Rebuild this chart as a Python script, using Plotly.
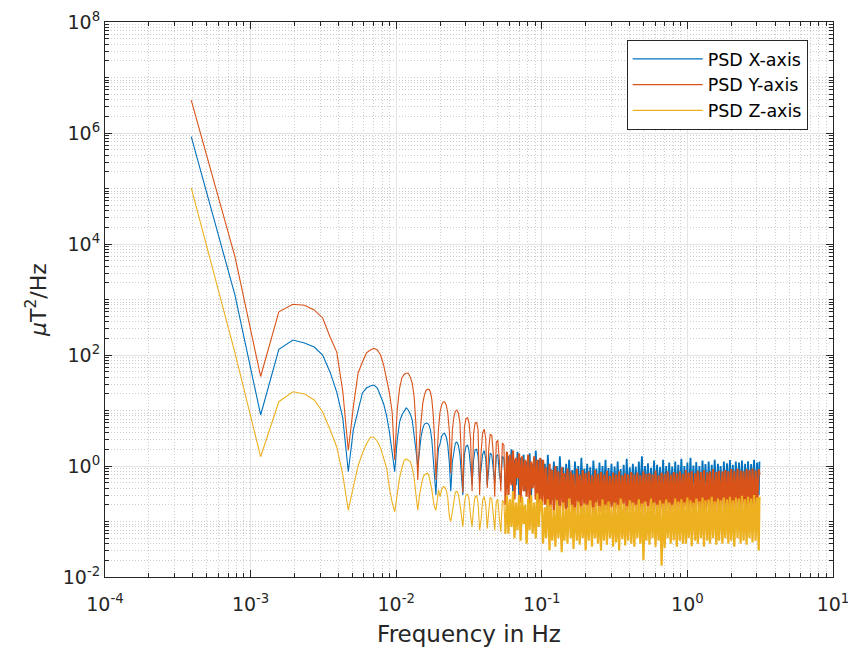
import plotly.graph_objects as go

# ---------------- data ----------------
# low-frequency FFT bins (Hz)
freq_low = [0.000391, 0.000781, 0.001172, 0.001563, 0.001953, 0.002344, 0.002734, 0.003125, 0.003516, 0.003906,
            0.004297, 0.004688, 0.005078, 0.005469, 0.005859, 0.00625, 0.006641, 0.007031, 0.007422, 0.007813,
            0.008203, 0.008594, 0.008984, 0.009375, 0.009766, 0.010156, 0.010547, 0.010938, 0.011328, 0.011719,
            0.012109, 0.0125, 0.012891, 0.013281, 0.013672, 0.014063, 0.014453, 0.014844, 0.015234, 0.015625,
            0.016016, 0.016406, 0.016797, 0.017188, 0.017578, 0.017969, 0.018359, 0.01875, 0.019141, 0.019531]
freq_mid = [0.0200, 0.0205, 0.0210, 0.0215, 0.0221, 0.0226, 0.0232, 0.0237, 0.0243, 0.0249,
            0.0255, 0.0261, 0.0267, 0.0274, 0.0280, 0.0287, 0.0294, 0.0301, 0.0309, 0.0316,
            0.0324, 0.0332, 0.0340, 0.0348, 0.0357, 0.0365, 0.0374, 0.0383, 0.0392, 0.0402,
            0.0412, 0.0422, 0.0432, 0.0442, 0.0453, 0.0464, 0.0475, 0.0487, 0.0499, 0.0511,
            0.0523, 0.0536, 0.0549, 0.0562, 0.0576, 0.0590, 0.0604, 0.0619, 0.0634, 0.0649,
            0.0665, 0.0681, 0.0698, 0.0715, 0.0732, 0.0750, 0.0768, 0.0787, 0.0806, 0.0825,
            0.0845, 0.0866, 0.0887, 0.0909, 0.0931, 0.0953, 0.0976]
freq_high = [0.100, 0.102, 0.105, 0.107, 0.110, 0.113, 0.115, 0.118, 0.121, 0.124,
             0.127, 0.130, 0.133, 0.137, 0.140, 0.143, 0.147, 0.150, 0.154, 0.158,
             0.162, 0.165, 0.169, 0.174, 0.178, 0.182, 0.187, 0.191, 0.196, 0.200,
             0.205, 0.210, 0.215, 0.221, 0.226, 0.232, 0.237, 0.243, 0.249, 0.255,
             0.261, 0.267, 0.274, 0.280, 0.287, 0.294, 0.301, 0.309, 0.316, 0.324,
             0.332, 0.340, 0.348, 0.357, 0.365, 0.374, 0.383, 0.392, 0.402, 0.412,
             0.422, 0.432, 0.442, 0.453, 0.464, 0.475, 0.487, 0.499, 0.511, 0.523,
             0.536, 0.549, 0.562, 0.576, 0.590, 0.604, 0.619, 0.634, 0.649, 0.665,
             0.681, 0.698, 0.715, 0.732, 0.750, 0.768, 0.787, 0.806, 0.825, 0.845,
             0.866, 0.887, 0.909, 0.931, 0.953, 0.976,
             1.00, 1.02, 1.05, 1.07, 1.10, 1.13, 1.15, 1.18, 1.21, 1.24,
             1.27, 1.30, 1.33, 1.37, 1.40, 1.43, 1.47, 1.50, 1.54, 1.58,
             1.62, 1.65, 1.69, 1.74, 1.78, 1.82, 1.87, 1.91, 1.96, 2.00,
             2.05, 2.10, 2.15, 2.21, 2.26, 2.32, 2.37, 2.43, 2.49, 2.55,
             2.61, 2.67, 2.74, 2.80, 2.87, 2.94, 3.01, 3.09, 3.125]

# PSD X-axis (uT^2/Hz)
psd_x_low = [8.6e5, 1.2e3, 8.3, 127, 186, 164, 139, 100, 49, 21.5,
             7.3, 0.79, 4.5, 10.2, 20.7, 25.4, 27.6, 28.8, 25.4, 18.2,
             13.1, 8.0, 4.1, 1.8, 0.79, 2.9, 6.2, 8.3, 9.8, 11.1,
             10.2, 8.6, 6.7, 3.9, 1.9, 0.98, 1.9, 3.5, 4.8, 5.7,
             5.9, 5.9, 5.5, 4.5, 2.9, 1.39, 0.61, 0.30, 1.04, 2.1]
psd_x_mid = [2.5, 3.4, 3.8, 3.9, 3.3, 2.4, 1.1, 0.35, 1.18, 2.0,
             2.6, 2.7, 2.4, 1.6, 0.8, 0.3, 1.6, 2.2, 2.4, 1.9,
             0.98, 0.45, 1.27, 1.95, 2.0, 1.5, 0.5, 0.9, 1.6, 1.9,
             1.35, 0.45, 0.93, 1.7, 1.6, 0.78, 0.5, 1.5, 1.6, 0.72,
             0.5, 1.5, 1.37, 0.4, 0.4, 1.5, 0.5, 2.0, 0.35, 1.3,
             0.45, 1.8, 0.3, 1.4, 0.55, 1.6, 0.35, 1.2, 0.4, 1.7,
             0.3, 1.1, 0.45, 1.9, 0.35, 1.3, 0.5]
psd_x_high = [1.3, 0.3, 1.1, 0.22, 1.6, 0.35, 0.9, 0.25, 1.2, 0.4,
              1.0, 0.2, 1.5, 0.3, 0.95, 0.28, 1.1, 0.18, 1.3, 0.33,
              0.85, 0.25, 1.2, 0.3, 1.0, 0.22, 1.4, 0.35, 0.9, 0.27,
              1.1, 0.3, 0.95, 0.24, 1.25, 0.35, 0.9, 0.28, 1.15, 0.22,
              1.0, 0.32, 1.3, 0.26, 0.92, 0.3, 1.1, 0.2, 0.98, 0.34,
              1.2, 0.27, 0.88, 0.3, 1.05, 0.24, 1.35, 0.3, 0.95, 0.28,
              1.1, 0.32, 0.97, 0.25, 1.2, 0.3, 1.5, 0.28, 1.0, 0.35,
              1.12, 0.24, 0.93, 0.3, 1.25, 0.27, 1.05, 0.33, 0.96, 0.25,
              1.3, 0.3, 1.0, 0.28, 1.15, 0.34, 0.98, 0.26, 1.2, 0.3,
              1.05, 0.3, 1.35, 0.27, 1.0, 0.33, 1.15, 0.25, 1.4, 0.3,
              1.02, 0.28, 1.18, 0.35, 1.0, 0.27, 1.25, 0.3, 1.08, 0.32,
              1.2, 0.26, 1.05, 0.3, 1.3, 0.29, 1.1, 0.34, 1.0, 0.28,
              1.2, 0.3, 1.12, 0.33, 1.28, 0.27, 1.05, 0.31, 1.2, 0.3,
              1.15, 0.35, 1.25, 0.28, 1.1, 0.32, 1.22, 0.3, 1.08, 0.34,
              1.3, 0.29, 1.15, 0.3, 1.2]

# PSD Y-axis (uT^2/Hz)
psd_y_low = [3.9e6, 5.9e3, 41, 600, 820, 790, 650, 465, 211, 113,
             22, 1.9, 11.6, 47, 75, 109, 123, 132, 123, 100,
             66, 38.6, 20.7, 9.4, 1.28, 10.2, 25, 38.6, 44.6, 47,
             47, 40, 31, 17.5, 5.5, 0.56, 2.9, 6.7, 13.6, 19,
             23, 24, 24, 21.5, 15.5, 8.3, 2.9, 0.56, 1.9, 4.8]
psd_y_mid = [9.4, 12.5, 14.2, 14.3, 12.3, 9.1, 4.1, 0.74, 4.4, 7.6,
             9.7, 10.2, 9.0, 6.0, 1.5, 0.33, 5.0, 7.0, 7.4, 6.1,
             3.1, 0.35, 3.8, 5.9, 6.1, 4.5, 0.3, 1.75, 3.9, 4.6,
             3.2, 0.4, 2.0, 3.7, 3.6, 1.7, 0.28, 2.7, 2.9, 1.3,
             0.35, 2.6, 2.4, 0.2, 1.8, 0.3, 1.6, 0.45, 1.9, 0.25,
             1.4, 0.6, 1.7, 0.22, 1.5, 0.35, 1.3, 0.28, 1.6, 0.2,
             1.2, 0.4, 1.5, 0.25, 1.3, 0.18, 1.4]
psd_y_high = [0.15, 1.3, 0.2, 0.95, 0.12, 1.1, 0.18, 0.85, 0.14, 1.0,
              0.2, 0.8, 0.13, 0.95, 0.17, 0.75, 0.12, 0.9, 0.19, 0.8,
              0.15, 0.72, 0.11, 0.88, 0.18, 0.7, 0.14, 0.85, 0.2, 0.75,
              0.13, 0.8, 0.17, 0.68, 0.12, 0.85, 0.19, 0.72, 0.15, 0.78,
              0.11, 0.7, 0.16, 0.82, 0.13, 0.66, 0.18, 0.76, 0.12, 0.7,
              0.17, 0.8, 0.14, 0.68, 0.2, 0.74, 0.12, 0.7, 0.16, 0.78,
              0.14, 0.7, 0.18, 0.76, 0.12, 0.68, 0.16, 0.8, 0.13, 0.72,
              0.19, 0.75, 0.12, 0.7, 0.17, 0.82, 0.14, 0.68, 0.16, 0.76,
              0.12, 0.72, 0.18, 0.8, 0.13, 0.7, 0.17, 0.78, 0.14, 0.74,
              0.16, 0.8, 0.13, 0.72, 0.18, 0.85, 0.12, 0.76, 0.17, 0.8,
              0.14, 0.74, 0.19, 0.82, 0.13, 0.78, 0.16, 0.85, 0.12, 0.76,
              0.18, 0.8, 0.14, 0.88, 0.16, 0.78, 0.13, 0.82, 0.18, 0.8,
              0.15, 0.85, 0.12, 0.8, 0.18, 0.88, 0.14, 0.82, 0.17, 0.9,
              0.13, 0.84, 0.18, 0.8, 0.15, 0.88, 0.12, 0.85, 0.17, 0.9,
              0.14, 0.83, 0.18, 0.88, 0.7]

# PSD Z-axis (uT^2/Hz)
psd_z_low = [1.03e5, 109, 1.47, 14.4, 21.8, 19.8, 15.5, 9.4, 4.5, 2.2,
             0.69, 0.16, 0.42, 1.0, 1.7, 2.5, 3.3, 3.3, 2.8, 2.1,
             1.39, 0.92, 0.40, 0.22, 0.15, 0.30, 0.61, 0.92, 1.25, 1.34,
             1.28, 1.2, 0.92, 0.61, 0.30, 0.16, 0.30, 0.45, 0.61, 0.69,
             0.72, 0.75, 0.66, 0.5, 0.37, 0.24, 0.18, 0.16, 0.26, 0.37]
psd_z_mid = [0.28, 0.37, 0.42, 0.42, 0.36, 0.27, 0.12, 0.1, 0.15, 0.26,
             0.34, 0.35, 0.31, 0.21, 0.12, 0.08, 0.21, 0.30, 0.31, 0.26,
             0.13, 0.08, 0.18, 0.28, 0.29, 0.22, 0.07, 0.11, 0.24, 0.28,
             0.2, 0.075, 0.15, 0.27, 0.26, 0.12, 0.07, 0.23, 0.25, 0.115,
             0.065, 0.24, 0.22, 0.06, 0.3, 0.06, 0.25, 0.08, 0.35, 0.05,
             0.22, 0.07, 0.3, 0.045, 0.28, 0.09, 0.2, 0.04, 0.26, 0.07,
             0.3, 0.06, 0.22, 0.05, 0.32, 0.08, 0.25]
psd_z_high = [0.22, 0.04, 0.18, 0.05, 0.25, 0.03, 0.2, 0.045, 0.16, 0.035,
              0.24, 0.05, 0.19, 0.028, 0.22, 0.045, 0.17, 0.04, 0.26, 0.05,
              0.2, 0.032, 0.18, 0.045, 0.23, 0.038, 0.19, 0.05, 0.21, 0.03,
              0.2, 0.045, 0.24, 0.035, 0.18, 0.05, 0.22, 0.04, 0.19, 0.03,
              0.25, 0.045, 0.2, 0.038, 0.23, 0.05, 0.18, 0.035, 0.22, 0.042,
              0.2, 0.03, 0.26, 0.048, 0.21, 0.037, 0.19, 0.045, 0.24, 0.04,
              0.22, 0.035, 0.2, 0.05, 0.25, 0.04, 0.21, 0.02, 0.23, 0.045,
              0.19, 0.038, 0.26, 0.05, 0.22, 0.035, 0.2, 0.045, 0.24, 0.016,
              0.21, 0.033, 0.25, 0.05, 0.22, 0.04, 0.2, 0.046, 0.26, 0.035,
              0.23, 0.045, 0.25, 0.04, 0.22, 0.04, 0.27, 0.05, 0.24, 0.036,
              0.22, 0.045, 0.26, 0.04, 0.23, 0.05, 0.27, 0.035, 0.24, 0.045,
              0.25, 0.04, 0.28, 0.05, 0.23, 0.038, 0.26, 0.045, 0.24, 0.04,
              0.27, 0.05, 0.25, 0.04, 0.28, 0.045, 0.24, 0.035, 0.27, 0.05,
              0.26, 0.04, 0.29, 0.045, 0.25, 0.038, 0.28, 0.05, 0.26, 0.042,
              0.3, 0.045, 0.27, 0.03, 0.28]

series_names = ["PSD X-axis", "PSD Y-axis", "PSD Z-axis"]
x_tick_vals = [1e-4, 1e-3, 1e-2, 1e-1, 1e0, 1e1]
x_tick_text = ["10<sup>-4</sup>", "10<sup>-3</sup>", "10<sup>-2</sup>",
               "10<sup>-1</sup>", "10<sup>0</sup>", "10<sup>1</sup>"]
y_tick_vals = [1e-2, 1e0, 1e2, 1e4, 1e6, 1e8]
y_tick_text = ["10<sup>-2</sup>", "10<sup>0</sup>", "10<sup>2</sup>",
               "10<sup>4</sup>", "10<sup>6</sup>", "10<sup>8</sup>"]

# ---------------- figure ----------------
colors = ["#0072BD", "#D95319", "#EDB120"]
noise_widths = [1.8, 2.2, 2.2]
SPLIT = len(freq_low) + 43          # where the dense noise part starts (0.0562 Hz)
freq = freq_low + freq_mid + freq_high
series = [psd_x_low + psd_x_mid + psd_x_high,
          psd_y_low + psd_y_mid + psd_y_high,
          psd_z_low + psd_z_mid + psd_z_high]

fig = go.Figure()
for name, vals, col, nw in zip(series_names, series, colors, noise_widths):
    # tonal part (clear lobes)
    fig.add_trace(go.Scatter(x=freq[:SPLIT + 1], y=vals[:SPLIT + 1], mode="lines", name=name,
                             legendgroup=name, line=dict(color=col, width=1.1)))
    # dense noisy part
    fig.add_trace(go.Scatter(x=freq[SPLIT:], y=vals[SPLIT:], mode="lines", name=name,
                             legendgroup=name, showlegend=False,
                             line=dict(color=col, width=nw)))

FONT = "DejaVu Sans"
TXT = "#262626"
x_minor = [m * 10.0 ** e for e in range(-4, 1) for m in range(2, 10)]
y_minor = [m * 10.0 ** e for e in range(-2, 8) for m in range(1, 10) if not (m == 1 and e % 2 == 0)]

axis_common = dict(
    type="log", showline=True, linecolor=TXT, linewidth=1, mirror="ticks",
    ticks="inside", ticklen=7, tickcolor=TXT, tickwidth=1,
    showgrid=True, gridcolor="#e4e4e4", gridwidth=1, zeroline=False,
    automargin=False,
    tickfont=dict(family=FONT, size=19, color=TXT),
)
minor_common = dict(tickmode="array", ticks="inside", ticklen=4, tickcolor=TXT,
                    showgrid=True, gridcolor="#cdcdcd", griddash="1px,2px")

fig.update_xaxes(**axis_common, range=[-4, 1], tickmode="array",
                 tickvals=x_tick_vals, ticktext=x_tick_text, ticklabelstandoff=10,
                 minor=dict(**minor_common, tickvals=x_minor),
                 title=dict(text="Frequency in Hz", font=dict(family=FONT, size=23, color=TXT),
                            standoff=12))
fig.update_yaxes(**axis_common, range=[-2, 8], tickmode="array",
                 tickvals=y_tick_vals, ticktext=y_tick_text,
                 minor=dict(**minor_common, tickvals=y_minor),
                 title=dict(text="<i>μ</i>T<sup>2</sup>/Hz", font=dict(family=FONT, size=22, color=TXT),
                            standoff=10))

# the page body adds an 8 px offset, so the figure is 8 px smaller than the window
fig.update_layout(
    width=848, height=645,
    margin=dict(l=97, r=23, t=14, b=76, autoexpand=False),
    paper_bgcolor="white", plot_bgcolor="white",
    font=dict(family=FONT, color=TXT),
    showlegend=True,
    legend=dict(x=0.7166, y=0.9676, xanchor="left", yanchor="top",
                bgcolor="white", bordercolor=TXT, borderwidth=1,
                font=dict(family=FONT, size=17.5, color="#000000"),
                traceorder="normal", itemwidth=70),
)

fig.write_html("out.html")
